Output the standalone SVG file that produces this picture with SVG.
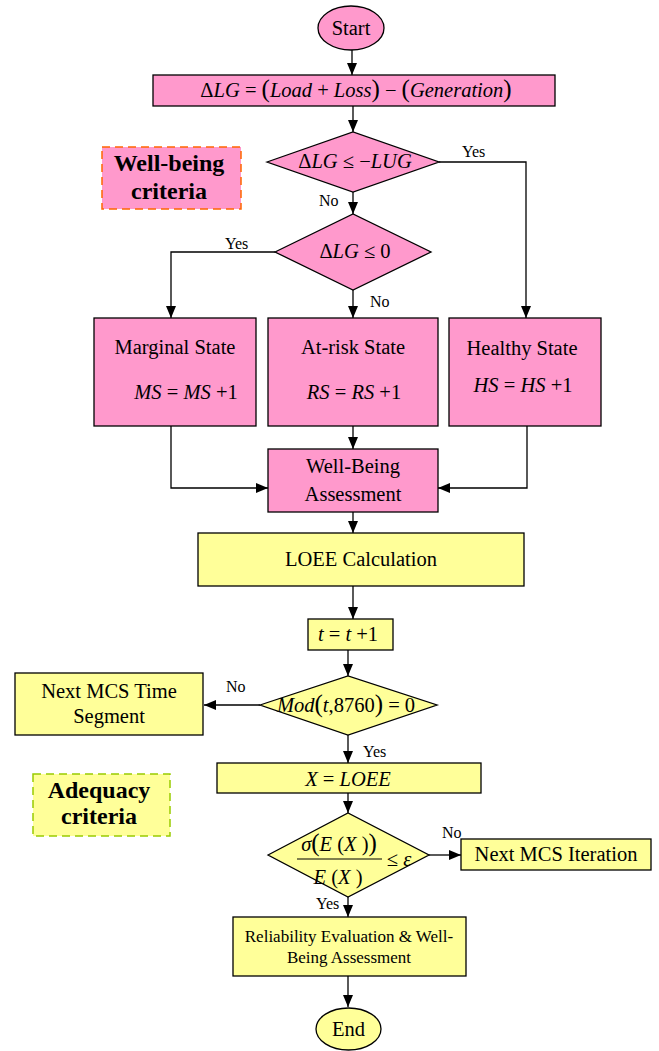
<svg xmlns="http://www.w3.org/2000/svg" width="659" height="1051" viewBox="0 0 659 1051">
<defs>
<style>
.pk{fill:#FF99CC;stroke:#000;stroke-width:1.3}
.yw{fill:#FFFF99;stroke:#000;stroke-width:1.3}
.t{font-family:"Liberation Serif","Times New Roman",serif;font-size:20.5px;text-anchor:middle;fill:#000}
.s{font-size:17px}
.l{font-family:"Liberation Serif","Times New Roman",serif;font-size:16px;fill:#000}
.b{font-weight:bold;font-size:24px}
.i{font-style:italic}
.p{font-size:25px}
.c path,.c line{fill:none;stroke:#000;stroke-width:1.3}
.c .a{marker-end:url(#ah)}
</style>
<marker id="ah" viewBox="0 0 12 10" markerUnits="userSpaceOnUse" markerWidth="12" markerHeight="10" refX="12" refY="5" orient="auto">
<path d="M0,0 L12,5 L0,10 z" fill="#000"/>
</marker>
</defs>
<rect width="659" height="1051" fill="#fff"/>

<g id="connectors" class="c">
<path class="a" d="M352,50 V75"/>
<path class="a" d="M353,106 V132"/>
<path class="a" d="M353,192 V214"/>
<path class="a" d="M439,162 H526 V318"/>
<path class="a" d="M275,252 H171 V318"/>
<path class="a" d="M353,290 V318"/>
<path class="a" d="M171,426 V488 H268"/>
<path class="a" d="M353,426 V449"/>
<path class="a" d="M527,426 V488 H438"/>
<path class="a" d="M353,512 V533"/>
<path class="a" d="M353,586 V619"/>
<path class="a" d="M348,650 V676"/>
<path class="a" d="M260,705 H204"/>
<path class="a" d="M348,735 V763"/>
<path class="a" d="M348,793 V813"/>
<path class="a" d="M429,855 H461"/>
<path class="a" d="M348,897 V917"/>
<path class="a" d="M348,976 V1007"/>
<text class="l" x="462" y="157">Yes</text>
<text class="l" x="319" y="206">No</text>
<text class="l" x="225" y="249">Yes</text>
<text class="l" x="370" y="307">No</text>
<text class="l" x="226" y="692">No</text>
<text class="l" x="363" y="757">Yes</text>
<text class="l" x="442" y="838">No</text>
<text class="l" x="316" y="909">Yes</text>
</g>

<g id="start">
<ellipse class="pk" cx="351" cy="28" rx="33" ry="22"/>
<text class="t" x="351" y="35">Start</text>
</g>

<g id="delta-lg">
<rect class="pk" x="153" y="75" width="402" height="31"/>
<text class="t" x="356" y="97">Δ<tspan class="i">LG</tspan> = <tspan class="p">(</tspan><tspan class="i">Load</tspan> + <tspan class="i">Loss</tspan><tspan class="p">)</tspan> − <tspan class="p">(</tspan><tspan class="i">Generation</tspan><tspan class="p">)</tspan></text>
</g>

<g id="well-being-criteria">
<rect x="102" y="147" width="139" height="62" fill="#FF99CC" stroke="#FF6600" stroke-width="1.5" stroke-dasharray="8,5"/>
<text class="t b" x="169" y="171">Well-being</text>
<text class="t b" x="169" y="199">criteria</text>
</g>

<g id="decision-lug">
<polygon class="pk" points="267,162 353,132 439,162 353,192"/>
<text class="t" x="355" y="168">Δ<tspan class="i">LG</tspan> ≤ −<tspan class="i">LUG</tspan></text>
</g>

<g id="decision-zero">
<polygon class="pk" points="275,252 353,214 431,252 353,290"/>
<text class="t" x="355" y="258">Δ<tspan class="i">LG</tspan> ≤ 0</text>
</g>

<g id="marginal">
<rect class="pk" x="94" y="318" width="162" height="108"/>
<text class="t" x="175" y="354">Marginal State</text>
<text class="t" x="186" y="399"><tspan class="i">MS</tspan> = <tspan class="i">MS</tspan> +1</text>
</g>

<g id="at-risk">
<rect class="pk" x="268" y="318" width="170" height="108"/>
<text class="t" x="353" y="354">At-risk State</text>
<text class="t" x="354" y="399"><tspan class="i">RS</tspan> = <tspan class="i">RS</tspan> +1</text>
</g>

<g id="healthy">
<rect class="pk" x="449" y="318" width="152" height="108"/>
<text class="t" x="522" y="355">Healthy State</text>
<text class="t" x="523" y="392"><tspan class="i">HS</tspan> = <tspan class="i">HS</tspan> +1</text>
</g>

<g id="well-being-assessment">
<rect class="pk" x="268" y="449" width="170" height="63"/>
<text class="t" x="353" y="473">Well-Being</text>
<text class="t" x="353" y="501">Assessment</text>
</g>

<g id="loee">
<rect class="yw" x="198" y="533" width="326" height="53"/>
<text class="t" x="361" y="566">LOEE Calculation</text>
</g>

<g id="t-increment">
<rect class="yw" x="308" y="619" width="85" height="31"/>
<text class="t" x="348" y="641"><tspan class="i">t</tspan> = <tspan class="i">t</tspan> +1</text>
</g>

<g id="decision-mod">
<polygon class="yw" points="260,705 348,676 437,705 348,735"/>
<text class="t" x="346" y="712"><tspan class="i">Mod</tspan><tspan class="p">(</tspan><tspan class="i">t</tspan>,8760<tspan class="p">)</tspan> = 0</text>
</g>

<g id="next-time-segment">
<rect class="yw" x="15" y="673" width="188" height="62"/>
<text class="t" x="109" y="698">Next MCS Time</text>
<text class="t" x="109" y="723">Segment</text>
</g>

<g id="adequacy-criteria">
<rect x="33" y="774" width="137" height="62" fill="#FFFF99" stroke="#99CC00" stroke-width="1.5" stroke-dasharray="8,5"/>
<text class="t b" x="99" y="798">Adequacy</text>
<text class="t b" x="99" y="824">criteria</text>
</g>

<g id="x-loee">
<rect class="yw" x="217" y="763" width="264" height="30"/>
<text class="t" x="348" y="786"><tspan class="i">X</tspan> = <tspan class="i">LOEE</tspan></text>
</g>

<g id="decision-convergence">
<polygon class="yw" points="268,855 348,813 429,855 348,897"/>
<text class="t" x="339" y="851"><tspan class="i">σ</tspan><tspan class="p">(</tspan><tspan class="i">E</tspan> (<tspan class="i">X</tspan> )<tspan class="p">)</tspan></text>
<line x1="297" y1="859" x2="382" y2="859" stroke="#000" stroke-width="1"/>
<text class="t" x="338" y="884"><tspan class="i">E</tspan> (<tspan class="i">X</tspan> )</text>
<text class="t" x="399" y="866">≤ <tspan class="i">ε</tspan></text>
</g>

<g id="next-iteration">
<rect class="yw" x="461" y="839" width="190" height="31"/>
<text class="t" x="556" y="861">Next MCS Iteration</text>
</g>

<g id="reliability">
<rect class="yw" x="233" y="917" width="233" height="59"/>
<text class="t s" x="349" y="942">Reliability Evaluation &amp; Well-</text>
<text class="t s" x="349" y="963">Being Assessment</text>
</g>

<g id="end">
<ellipse class="yw" cx="348.5" cy="1029" rx="32.5" ry="21"/>
<text class="t" x="348.5" y="1036">End</text>
</g>
</svg>
